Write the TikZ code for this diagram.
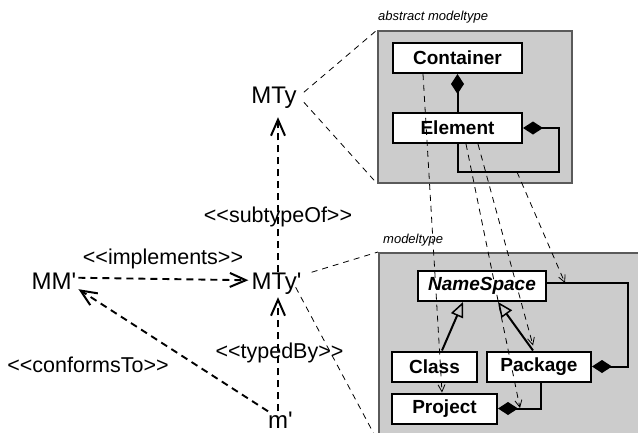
\documentclass[tikz,border=0pt]{standalone}
\usepackage{fontspec}
\setmainfont{Liberation Sans}[Ligatures=TeXOff]
\usetikzlibrary{arrows.meta,calc}
\definecolor{boxgray}{RGB}{204,204,204}
\definecolor{edgegray}{RGB}{90,90,90}
\begin{document}
\begin{tikzpicture}[x=1pt,y=-1pt,
  big/.style={font=\fontsize{24}{28}\selectfont, inner sep=0pt, anchor=base},
  lbl/.style={font=\fontsize{21.5}{25}\selectfont, inner sep=0pt, anchor=base},
  cls/.style={draw, line width=2pt, fill=white, font=\fontsize{19}{22}\selectfont\bfseries, inner sep=0pt, minimum height=30pt},
  pkg/.style={draw=edgegray, line width=1.5pt, fill=boxgray, inner sep=0pt, anchor=north west},
  pkglbl/.style={font=\fontsize{13}{15}\selectfont\itshape, inner sep=0pt, anchor=west},
  bigdash/.style={line width=1.9pt, dash pattern=on 7pt off 5pt, -{Straight Barb[length=16pt,width=14pt,line width=2pt]}},
  proj/.style={line width=0.8pt, dash pattern=on 6pt off 5pt},
  map/.style={line width=0.8pt, dash pattern=on 6pt off 5pt, -{Straight Barb[length=7pt,width=7pt,line width=0.8pt]}},
  comp/.style={line width=2pt, {Diamond[length=20pt,width=13pt]}-},
  compend/.style={line width=2pt, -{Diamond[length=20pt,width=13pt]}},
  gen/.style={line width=2pt, -{Triangle[open, length=15pt, width=13pt, line width=1.5pt]}}
]
\useasboundingbox (0,0) rectangle (638,432);

% packages
\node[pkg, minimum width=194pt, minimum height=152pt] (abs) at (377,30) {};
\node[pkglbl] (abslbl) at (378,17) {abstract modeltype};
\node[pkg, minimum width=290pt, minimum height=188pt] (mt) at (378,252) {};
\node[pkglbl] (mtlbl) at (383,240) {modeltype};

% classes
\node[cls, minimum width=129pt] (Container) at (457.5,58) {Container};
\node[cls, minimum width=129pt] (Element) at (457.5,128) {Element};
\node[cls, minimum width=128pt] (NameSpace) at (482,286) {\itshape NameSpace};
\node[cls, minimum width=85pt] (Class) at (434.5,366.5) {Class};
\node[cls, minimum width=104pt] (Package) at (539,366.5) {Package};
\node[cls, minimum width=105pt] (Project) at (444.5,408.5) {Project};

% class relations
\draw[comp] (Container.south) -- (Element.north);
\draw[comp] (Element.east) -- ++(36,0) -- ++(0,44) -| (Element.south);
\draw[gen] ([xshift=7.5pt]Class.north) -- ([xshift=-19pt]NameSpace.south);
\draw[gen] ([xshift=-6pt]Package.north) -- ([xshift=16pt]NameSpace.south);
\draw[compend] ([yshift=3pt]NameSpace.east) -- ++(81,0) |- (Package.east);
\draw[compend] ([xshift=2pt]Package.south) |- (Project.east);

% mapping lines
\coordinate (loopA) at (517,172);
\coordinate (nsPk) at (565,283);
\coordinate (pkPr) at (520,408);
\draw[map] ([xshift=-34.5pt]Container.south) -- ([xshift=-2.5pt]Project.north);
\draw[map] ([xshift=8.5pt]Element.south) -- (pkPr);
\draw[map] ([xshift=20.5pt]Element.south) -- ([xshift=-6pt,yshift=5pt]Package.north);
\draw[map] (loopA) -- (nsPk);

% model nodes
\node[big] (MTy) at (274,103) {MTy};
\node[big] (MTyp) at (276.5,289) {MTy'};
\node[big] (MMp) at (54,289) {MM'};
\node[big] (mp) at (280.5,428) {m'};

% projection lines
\draw[proj] ([xshift=7pt,yshift=5pt]MTy.east) -- (abs.north west);
\draw[proj] ([xshift=7pt,yshift=-5pt]MTy.east) -- (abs.south west);
\draw[proj] ([xshift=10pt,yshift=11pt]MTyp.east) -- (mt.north west);
\draw[proj] ([xshift=-6pt,yshift=-4pt]MTyp.east) -- (mt.south west);

% relations
\draw[bigdash] ([xshift=1.5pt]MTyp.north) -- ([xshift=4pt,yshift=-9pt]MTy.south);
\draw[bigdash] ([xshift=-2.5pt]mp.north) -- ([xshift=1.5pt,yshift=-3pt]MTyp.south);
\draw[bigdash] ([xshift=2pt,yshift=3pt]MMp.east) -- ([xshift=-3pt,yshift=3pt]MTyp.west);
\draw[bigdash] (mp.north west) -- ([xshift=2pt]MMp.south east);

% labels
\node[lbl] (lsub) at (278,222) {<<subtypeOf>>};
\node[lbl] (limp) at (163,264) {<<implements>>};
\node[lbl] (ltyp) at (279.5,358) {<<typedBy>>};
\node[lbl] (lcon) at (88,372) {<<conformsTo>>};
\end{tikzpicture}
\end{document}
